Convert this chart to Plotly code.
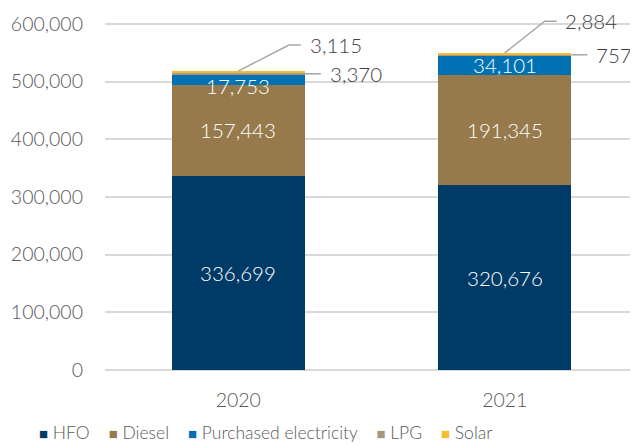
import plotly.graph_objects as go

years = ["2020", "2021"]
hfo = [336699, 320676]
diesel = [157443, 191345]
electricity = [17753, 34101]
lpg = [3370, 757]
solar = [3115, 2884]

series = [
    ("HFO", hfo, "#003a66"),
    ("Diesel", diesel, "#977a4c"),
    ("Purchased electricity", electricity, "#0071b3"),
    ("LPG", lpg, "#a8977f"),
    ("Solar", solar, "#f7bd2e"),
]

FONT = "Lato"
GREY = "#595959"
W = 300  # light weight

fig = go.Figure()
for name, vals, col in series:
    fig.add_trace(go.Bar(x=years, y=vals, name=name, marker_color=col,
                         marker_line_width=0, width=0.5, hoverinfo="skip"))

annotations = []
shapes = []
# inside labels for the three big segments
base = [0, 0]
for name, vals, col in series[:3]:
    for i, v in enumerate(vals):
        annotations.append(dict(x=i, y=base[i] + v / 2, xref="x", yref="y",
                                text=f"{v:,}", showarrow=False,
                                yshift=-6 if v < 25000 else 0,
                                font=dict(family=FONT, size=20.5, color="white", weight=W)))
        base[i] += v

line_col = "#a6a6a6"
solar_dx = [0.19, 0.15]
solar_up = [45000, 55000]
for i in range(2):
    total = base[i] + lpg[i] + solar[i]
    # LPG: short horizontal leader from bar edge
    ly = base[i] + lpg[i] / 2
    shapes.append(dict(type="line", xref="x", yref="y", x0=i + 0.25, x1=i + 0.31,
                       y0=ly, y1=ly, line=dict(color=line_col, width=1.5)))
    annotations.append(dict(x=i + 0.335, y=ly, xref="x", yref="y", text=f"{lpg[i]:,}",
                            showarrow=False, xanchor="left",
                            font=dict(family=FONT, size=20.5, color="#404040", weight=W)))
    # Solar: elbow leader from top of bar
    sy = total + solar_up[i]
    dx = solar_dx[i]
    shapes.append(dict(type="path", xref="x", yref="y",
                       path=f"M {i},{total} L {i + dx},{sy} L {i + dx + 0.045},{sy}",
                       line=dict(color=line_col, width=1.5)))
    annotations.append(dict(x=i + dx + 0.07, y=sy, xref="x", yref="y", text=f"{solar[i]:,}",
                            showarrow=False, xanchor="left",
                            font=dict(family=FONT, size=20.5, color="#404040", weight=W)))

# legend drawn as one text line
sp = "\u00a0"
items = []
for name, vals, col in series:
    items.append(f'<span style="color:{col};font-size:15px">■</span>{sp}{name}')
legend_text = (sp * 4).join(items)
annotations.append(dict(x=0.302, y=-0.174, xref="paper", yref="paper", text=legend_text,
                        showarrow=False, xanchor="center", yanchor="middle",
                        font=dict(family=FONT, size=17.5, color=GREY, weight=W)))

# the page body adds an 8px offset, so the figure is 8px smaller each way
fig.update_layout(
    barmode="stack",
    width=630, height=437,
    margin=dict(l=97, r=0, t=0, b=75),
    paper_bgcolor="white", plot_bgcolor="white",
    font=dict(family=FONT, size=17, color=GREY),
    showlegend=False,
    annotations=annotations,
    shapes=shapes,
)
fig.update_yaxes(range=[0, 627700], dtick=100000, tickformat=",",
                 showgrid=True, gridcolor="#d9d9d9", gridwidth=1.5,
                 zeroline=True, zerolinecolor="#d9d9d9", zerolinewidth=1.5,
                 ticks="", ticklabelstandoff=21, automargin=False,
                 tickfont=dict(family=FONT, size=19.5, color=GREY, weight=W))
fig.update_xaxes(showgrid=False, showline=False, ticks="", automargin=False,
                 tickfont=dict(family=FONT, size=19.5, color=GREY, weight=W),
                 ticklabelstandoff=16)

fig.write_html("out.html")
